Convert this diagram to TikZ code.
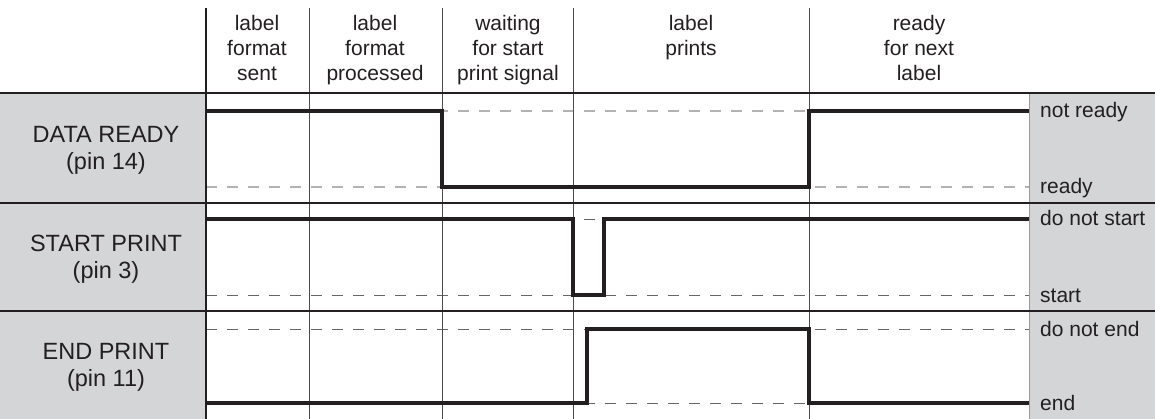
\documentclass[tikz,border=0pt]{standalone}
\usepackage{fontspec}
\setmainfont{Liberation Sans}
\definecolor{panel}{HTML}{D4D5D7}
\definecolor{ink}{HTML}{231F20}

\begin{document}
\begin{tikzpicture}[x=1pt, y=-1pt,
  every node/.style={font=\fontsize{21}{25}\selectfont, text=ink, inner sep=0pt},
  sig/.style={line width=4pt, ink},
  rowrule/.style={line width=1.6pt, ink},
  colline/.style={line width=1pt, black!70},
  lvllight/.style={line width=1.4pt, black!30, dash pattern=on 11pt off 10pt},
  lvldark/.style={line width=0.9pt, black!60, dash pattern=on 11pt off 10pt},
  pinlabel/.style={align=center, font=\fontsize{23.5}{27}\selectfont}]
	\useasboundingbox (0,0) rectangle (1155,419);
	\fill[panel] (0,93) rectangle (205,419);
	\fill[panel] (1029,93) rectangle (1155,419);
	\draw[black!40, line width=0.6pt] (1029,93) -- (1029,419);
	% level guides
	\draw[lvllight] (206,111) -- (1029,111) (206,187) -- (1029,187);
	\draw[lvldark] (206,219) -- (1029,219) (206,295) -- (1029,295);
	\draw[lvldark] (206,329) -- (1029,329) (206,403) -- (1029,403);
	% phase columns and rows
	\foreach \x in {309,442,573,809} {\draw[colline] (\x,8) -- (\x,419);}
	\draw[rowrule] (206,8) -- (206,419);
	\foreach \y in {93,203,311} {\draw[rowrule] (0,\y) -- (1155,\y);}
	% signals
	\draw[sig] (206,111) -- (442,111) -- (442,187) -- (809,187) -- (809,111) -- (1029,111);
	\draw[sig] (206,219) -- (573,219) -- (573,295) -- (604,295) -- (604,219) -- (1029,219);
	\draw[sig] (206,403) -- (587,403) -- (587,329) -- (809,329) -- (809,403) -- (1029,403);
	% phase headings
	\foreach \x/\t [count=\i] in {257/{label\\format\\sent}, 375/{label\\format\\processed},
	    508/{waiting\\for start\\print signal}, 691/{label\\prints}, 919/{ready\\for next\\label}}
	  {\node[align=center, anchor=north] (phase\i) at (\x,15) {\t};}
	% signal names
	\node[pinlabel] (dataready) at (106,150) {DATA READY\\(pin 14)};
	\node[pinlabel] (startprint) at (106,259) {START PRINT\\(pin 3)};
	\node[pinlabel] (endprint) at (106,367) {END PRINT\\(pin 11)};
	% level names
	\foreach \y/\t [count=\i] in {111/not ready, 187/ready, 219/do not start, 295/start, 329/do not end, 403/end}
	  {\node[anchor=base west] (level\i) at (1040,\y+7) {\t};}
\end{tikzpicture}
\end{document}
